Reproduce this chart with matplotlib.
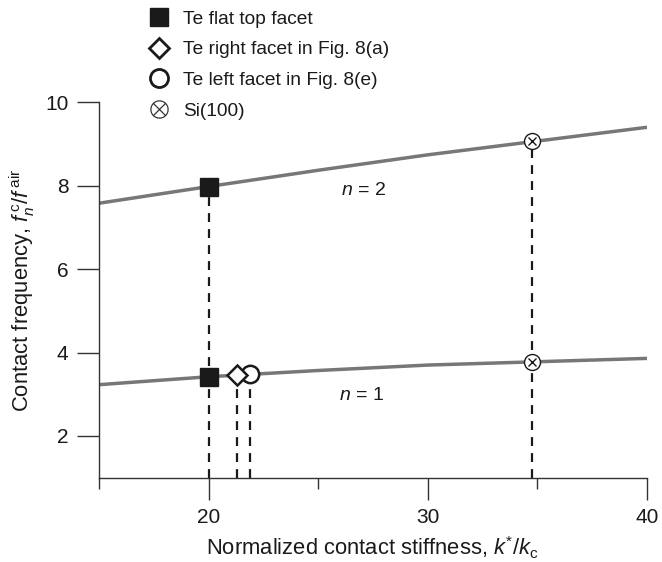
import numpy as np
import matplotlib.pyplot as plt
from matplotlib.lines import Line2D

plt.rcParams['font.family'] = ['Liberation Sans', 'DejaVu Sans']
plt.rcParams['mathtext.fontset'] = 'custom'
plt.rcParams['mathtext.rm'] = 'Liberation Sans'
plt.rcParams['mathtext.it'] = 'Liberation Sans:italic'

# curves
k_ratio = [15, 20, 25, 30, 35, 40]
f_n2 = [7.58, 7.98, 8.37, 8.74, 9.07, 9.40]
f_n1 = [3.23, 3.42, 3.57, 3.70, 3.78, 3.86]

# marked points
flat_x, flat_n1, flat_n2 = 20.0, 3.42, 7.98
right_x, right_n1 = 21.3, 3.47
left_x, left_n1 = 21.9, 3.49
si_x, si_n1, si_n2 = 34.74, 3.78, 9.07

legend_labels = ['Te flat top facet', 'Te right facet in Fig. 8(a)',
                 'Te left facet in Fig. 8(e)', 'Si(100)']

fig = plt.figure(figsize=(6.62, 5.62), dpi=100)
ax = fig.add_axes([0.1495, 0.150, 0.8275, 0.668])

gray = '#777777'
ax.plot(k_ratio, f_n2, color=gray, lw=2.5, zorder=2)
ax.plot(k_ratio, f_n1, color=gray, lw=2.5, zorder=2)

dash = dict(color='#1a1a1a', lw=1.6, ls=(0, (4, 3.2)), zorder=1)
ax.plot([flat_x, flat_x], [1, flat_n2], **dash)
ax.plot([right_x, right_x], [1, right_n1], **dash)
ax.plot([left_x, left_x], [1, left_n1], **dash)
ax.plot([si_x, si_x], [1, si_n2], **dash)

# markers
ax.plot([flat_x, flat_x], [flat_n1, flat_n2], ls='none', marker='s', ms=12.5,
        mfc='#1a1a1a', mec='#1a1a1a', zorder=4)
ax.plot(right_x, right_n1, ls='none', marker='D', ms=10, mfc='white',
        mec='#1a1a1a', mew=1.8, zorder=4)
ax.plot(left_x, left_n1, ls='none', marker='o', ms=12.5, mfc='white',
        mec='#1a1a1a', mew=1.8, zorder=3)
ax.plot([si_x, si_x], [si_n1, si_n2], ls='none', marker='o', ms=11.5,
        mfc='white', mec='#1a1a1a', mew=1.0, zorder=4)
ax.plot([si_x, si_x], [si_n1, si_n2], ls='none', marker='x', ms=6,
        mec='#1a1a1a', mew=1.0, zorder=5)

ax.text(27.05, 7.88, '$n$ = 2', fontsize=14, ha='center', va='center', color='#1a1a1a')
ax.text(27.0, 2.97, '$n$ = 1', fontsize=14, ha='center', va='center', color='#1a1a1a')

ax.set_xlim(15, 40)
ax.set_ylim(1, 10)
ax.set_xticks([20, 30, 40])
ax.set_xticks([15, 25, 35], minor=True)
ax.set_yticks([2, 4, 6, 8, 10])
for s in ['top', 'right']:
    ax.spines[s].set_visible(False)
for s in ['left', 'bottom']:
    ax.spines[s].set_color('#333333')
    ax.spines[s].set_linewidth(1.0)
ax.tick_params(axis='both', which='major', direction='out', length=15.5, width=1.0,
               color='#333333', labelsize=15, labelcolor='#1a1a1a', pad=6.5)
ax.tick_params(axis='x', which='minor', direction='out', length=8, width=1.0,
               color='#333333')
ax.set_xlabel('Normalized contact stiffness, $k^{*}/k_{\\mathrm{c}}$', fontsize=15.8,
              color='#1a1a1a', labelpad=5)
ax.set_ylabel('Contact frequency, $f_n^{\\,\\mathrm{c}}/f^{\\,\\mathrm{air}}$', fontsize=15.8,
              color='#1a1a1a', labelpad=6)

handles = [
    Line2D([], [], ls='none', marker='s', ms=13, mfc='#1a1a1a', mec='#1a1a1a'),
    Line2D([], [], ls='none', marker='D', ms=10.5, mfc='white', mec='#1a1a1a', mew=2.0),
    Line2D([], [], ls='none', marker='o', ms=13, mfc='white', mec='#1a1a1a', mew=2.0),
    Line2D([], [], ls='none', marker='$\\otimes$', ms=13, mfc='#1a1a1a', mec='#1a1a1a', mew=0.2),
]
fig.legend(handles, legend_labels, loc='upper left', bbox_to_anchor=(0.223, 0.982),
           frameon=False, fontsize=13.8, handlelength=1.2, handletextpad=0.65,
           borderpad=0, borderaxespad=0, labelspacing=0.7, labelcolor='#1a1a1a')

fig.savefig('out.png', dpi=100)
